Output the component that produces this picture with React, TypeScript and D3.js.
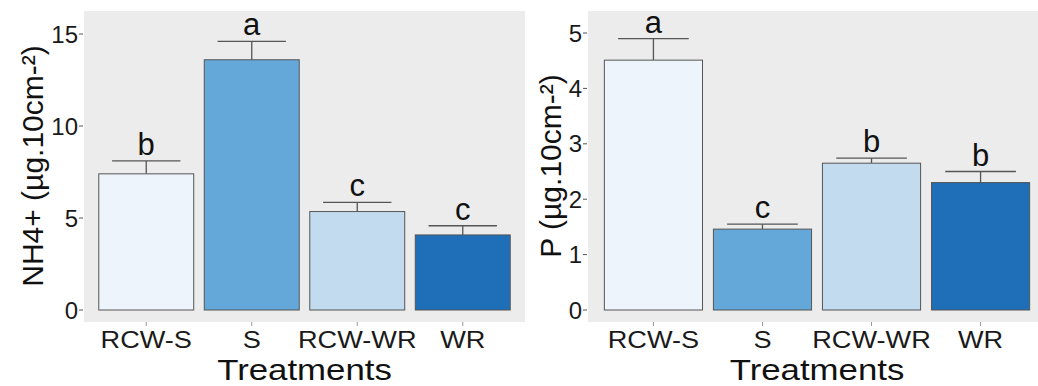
import React, { useRef, useEffect } from 'react';
import * as d3 from 'd3';

const treatments = ['RCW-S', 'S', 'RCW-WR', 'WR'];
const barColors = ['#eef4fb', '#63a8d8', '#c2dbee', '#1f6eb8'];

const nh4Means = [7.4, 13.6, 5.35, 4.08];
const nh4Errors = [0.7, 1.0, 0.5, 0.5];
const nh4Letters = ['b', 'a', 'c', 'c'];
const nh4Ticks = [0, 5, 10, 15];

const pMeans = [4.51, 1.46, 2.65, 2.3];
const pErrors = [0.39, 0.09, 0.09, 0.2];
const pLetters = ['a', 'c', 'b', 'b'];
const pTicks = [0, 1, 2, 3, 4, 5];

const FONT = 'Liberation Sans, Arial, sans-serif';

const App = () => {
  const d3Container = useRef<SVGSVGElement | null>(null);

  useEffect(() => {
    if (!d3Container.current) return;
    const svg = d3.select(d3Container.current);
    svg.selectAll('*').remove();

    const drawPanel = (opts: {
      left: number; right: number; xRight: number; outer: number;
      yMax: number; yTop: number; ticks: number[];
      means: number[]; errors: number[]; letters: string[];
      title: string; titleX: number;
    }) => {
      const top = 11, bottom = 322, zeroY = 310;
      const g = svg.append('g');

      g.append('rect')
        .attr('x', opts.left).attr('y', top)
        .attr('width', opts.right - opts.left).attr('height', bottom - top)
        .attr('fill', '#ececec');

      const x = d3.scaleBand<string>()
        .domain(treatments)
        .range([opts.left, opts.xRight])
        .paddingInner(0.1)
        .paddingOuter(opts.outer);

      const y = d3.scaleLinear()
        .domain([0, opts.yMax])
        .range([zeroY, opts.yTop]);

      // y ticks
      opts.ticks.forEach(t => {
        g.append('line')
          .attr('x1', opts.left - 5).attr('x2', opts.left - 1)
          .attr('y1', y(t)).attr('y2', y(t))
          .attr('stroke', '#555').attr('stroke-width', 1);
        g.append('text')
          .attr('x', opts.left - 6).attr('y', y(t))
          .attr('dy', '0.36em')
          .attr('text-anchor', 'end')
          .attr('font-family', FONT).attr('font-size', 24)
          .attr('fill', '#1a1a1a')
          .text(t);
      });

      const bw = x.bandwidth();

      treatments.forEach((c, i) => {
        const x0 = x(c) as number;
        const cx = x0 + bw / 2;
        const capW = bw * 0.72;
        const yTop = y(opts.means[i]);
        const yErr = y(opts.means[i] + opts.errors[i]);

        g.append('line')
          .attr('x1', cx).attr('x2', cx)
          .attr('y1', yTop).attr('y2', yErr)
          .attr('stroke', '#555').attr('stroke-width', 1.3);
        g.append('line')
          .attr('x1', cx - capW / 2).attr('x2', cx + capW / 2)
          .attr('y1', yErr).attr('y2', yErr)
          .attr('stroke', '#555').attr('stroke-width', 1.3);

        g.append('rect')
          .attr('x', x0).attr('y', yTop)
          .attr('width', bw).attr('height', zeroY - yTop)
          .attr('fill', barColors[i])
          .attr('stroke', '#555').attr('stroke-width', 1);

        g.append('text')
          .attr('x', cx).attr('y', yErr - 6)
          .attr('text-anchor', 'middle')
          .attr('font-family', FONT).attr('font-size', 31)
          .attr('fill', '#111')
          .text(opts.letters[i]);

        // x tick
        g.append('line')
          .attr('x1', cx).attr('x2', cx)
          .attr('y1', bottom).attr('y2', bottom + 4)
          .attr('stroke', '#999');
        g.append('text')
          .attr('transform', `translate(${cx},348) scale(1.18,1)`)
          .attr('text-anchor', 'middle')
          .attr('font-family', FONT).attr('font-size', 23)
          .attr('fill', '#1a1a1a')
          .text(c);
      });

      const xs = treatments.map(c => (x(c) as number) + bw / 2);
      const mid = (xs[0] + xs[xs.length - 1]) / 2;
      g.append('text')
        .attr('transform', `translate(${mid},380) scale(1.16,1)`)
        .attr('text-anchor', 'middle')
        .attr('font-family', FONT).attr('font-size', 30)
        .attr('fill', '#111')
        .text('Treatments');

      g.append('text')
        .attr('transform', `translate(${opts.titleX},166) rotate(-90)`)
        .attr('text-anchor', 'middle')
        .attr('font-family', FONT).attr('font-size', 30)
        .attr('fill', '#111')
        .text(opts.title);
    };

    drawPanel({
      left: 84, right: 525, xRight: 525, outer: 0.14,
      yMax: 15, yTop: 34, ticks: nh4Ticks,
      means: nh4Means, errors: nh4Errors, letters: nh4Letters,
      title: 'NH4+ (µg.10cm-²)', titleX: 43,
    });

    drawPanel({
      left: 588, right: 1038, xRight: 1046, outer: 0.15,
      yMax: 5, yTop: 33, ticks: pTicks,
      means: pMeans, errors: pErrors, letters: pLetters,
      title: 'P (µg.10cm-²)', titleX: 561,
    });
  }, []);

  return (
    <svg
      ref={d3Container}
      width={1038}
      height={386}
      style={{ position: 'absolute', left: 0, top: 0, background: '#fff' }}
    />
  );
};

export default App;
